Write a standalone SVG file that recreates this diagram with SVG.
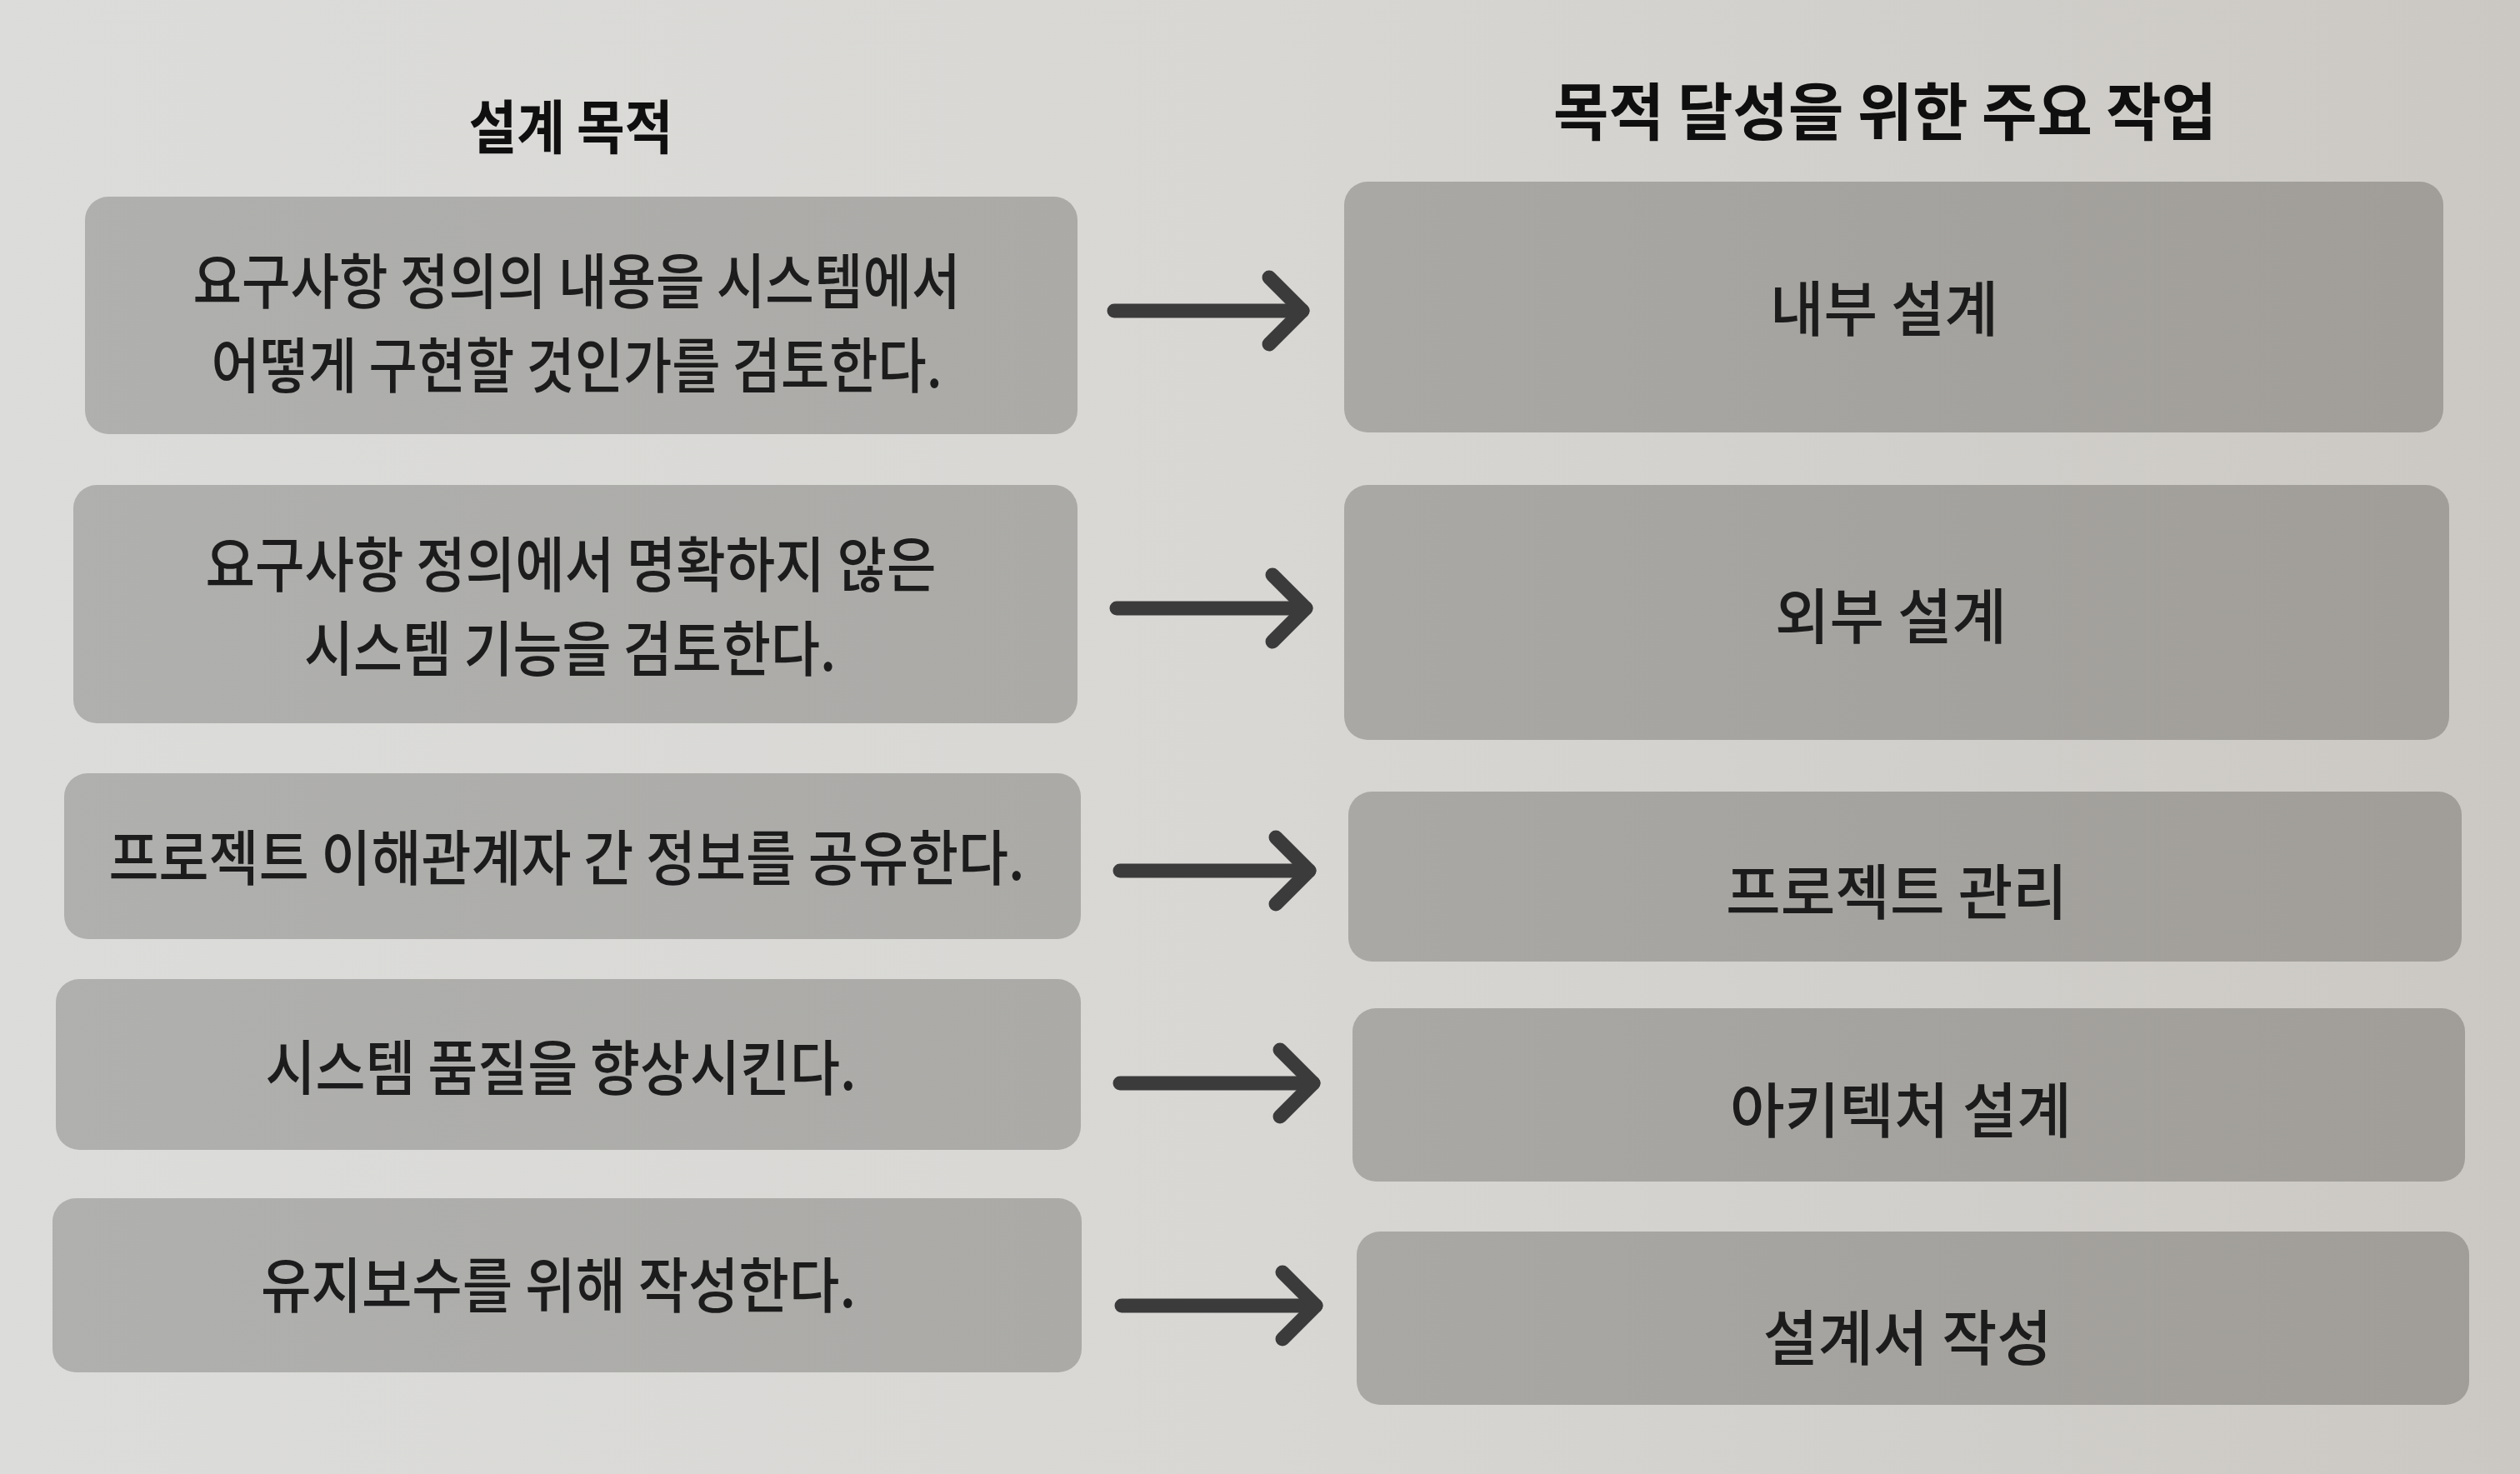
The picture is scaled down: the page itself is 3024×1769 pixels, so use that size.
<svg xmlns="http://www.w3.org/2000/svg" width="3024" height="1769" viewBox="0 0 3024 1769">
<style>
.box{fill:url(#boxfill)}
.t{font-family:"Noto Sans CJK KR","Noto Sans",sans-serif;font-size:72px;font-weight:500;fill:#1c1c1c;text-anchor:middle;dominant-baseline:central}
.h{font-weight:700;fill:#0f0f0f}
.arrow{stroke:#3b3b3b;stroke-width:17;stroke-linecap:round;fill:none;marker-end:url(#head)}
</style>
<defs>
<linearGradient id="bg" gradientUnits="userSpaceOnUse" x1="0" y1="0" x2="3024" y2="0">
<stop offset="0" stop-color="#dcdcda"/>
<stop offset="0.5" stop-color="#d8d7d4"/>
<stop offset="1" stop-color="#cbc8c3"/>
</linearGradient>
<linearGradient id="boxfill" gradientUnits="userSpaceOnUse" x1="0" y1="0" x2="3024" y2="0">
<stop offset="0" stop-color="#b0b0ae"/>
<stop offset="0.5" stop-color="#aaa9a6"/>
<stop offset="1" stop-color="#a09d98"/>
</linearGradient>
<marker id="head" viewBox="0 0 70 100" markerUnits="userSpaceOnUse" markerWidth="70" markerHeight="100" refX="52" refY="50" orient="auto">
<path d="M12,10 L52,50 L12,90" fill="none" stroke="#3b3b3b" stroke-width="17" stroke-linecap="round" stroke-linejoin="round"/>
</marker>
</defs>
<rect x="0" y="0" width="3024" height="1769" fill="url(#bg)"/>
<g id="headers">
<text class="t h" x="685" y="148" style="font-size:70px" textLength="245" lengthAdjust="spacingAndGlyphs">설계 목적</text>
<text class="t h" x="2262" y="129" style="font-size:75px" textLength="796" lengthAdjust="spacingAndGlyphs">목적 달성을 위한 주요 작업</text>
</g>
<g id="purpose-1">
<rect class="box" x="102" y="236" width="1191" height="285" rx="28"/>
<text class="t" x="692" y="332" textLength="921" lengthAdjust="spacingAndGlyphs">요구사항 정의의 내용을 시스템에서</text>
<text class="t" x="692" y="433" textLength="877" lengthAdjust="spacingAndGlyphs">어떻게 구현할 것인가를 검토한다.</text>
</g>
<g id="purpose-2">
<rect class="box" x="88" y="582" width="1205" height="286" rx="28"/>
<text class="t" x="685" y="672" textLength="877" lengthAdjust="spacingAndGlyphs">요구사항 정의에서 명확하지 않은</text>
<text class="t" x="684" y="773" textLength="638" lengthAdjust="spacingAndGlyphs">시스템 기능을 검토한다.</text>
</g>
<g id="purpose-3">
<rect class="box" x="77" y="928" width="1220" height="199" rx="28"/>
<text class="t" x="680" y="1024" textLength="1099" lengthAdjust="spacingAndGlyphs">프로젝트 이해관계자 간 정보를 공유한다.</text>
</g>
<g id="purpose-4">
<rect class="box" x="67" y="1175" width="1230" height="205" rx="28"/>
<text class="t" x="673" y="1276" textLength="709" lengthAdjust="spacingAndGlyphs">시스템 품질을 향상시킨다.</text>
</g>
<g id="purpose-5">
<rect class="box" x="63" y="1438" width="1235" height="209" rx="28"/>
<text class="t" x="670" y="1537" textLength="714" lengthAdjust="spacingAndGlyphs">유지보수를 위해 작성한다.</text>
</g>
<g id="task-1">
<rect class="box" x="1613" y="218" width="1319" height="301" rx="28"/>
<text class="t" x="2261" y="365" textLength="274" lengthAdjust="spacingAndGlyphs">내부 설계</text>
</g>
<g id="task-2">
<rect class="box" x="1613" y="582" width="1326" height="306" rx="28"/>
<text class="t" x="2269" y="734" textLength="278" lengthAdjust="spacingAndGlyphs">외부 설계</text>
</g>
<g id="task-3">
<rect class="box" x="1618" y="950" width="1336" height="204" rx="28"/>
<text class="t" x="2276" y="1065" textLength="410" lengthAdjust="spacingAndGlyphs">프로젝트 관리</text>
</g>
<g id="task-4">
<rect class="box" x="1623" y="1210" width="1335" height="208" rx="28"/>
<text class="t" x="2281" y="1327" textLength="410" lengthAdjust="spacingAndGlyphs">아키텍처 설계</text>
</g>
<g id="task-5">
<rect class="box" x="1628" y="1478" width="1335" height="208" rx="28"/>
<text class="t" x="2289" y="1600" textLength="347" lengthAdjust="spacingAndGlyphs">설계서 작성</text>
</g>
<g id="connectors">
<line class="arrow" x1="1337" y1="373" x2="1563" y2="373"/>
<line class="arrow" x1="1340" y1="730" x2="1567" y2="730"/>
<line class="arrow" x1="1344" y1="1045" x2="1571" y2="1045"/>
<line class="arrow" x1="1344" y1="1300" x2="1576" y2="1300"/>
<line class="arrow" x1="1346" y1="1567" x2="1579" y2="1567"/>
</g>
</svg>
